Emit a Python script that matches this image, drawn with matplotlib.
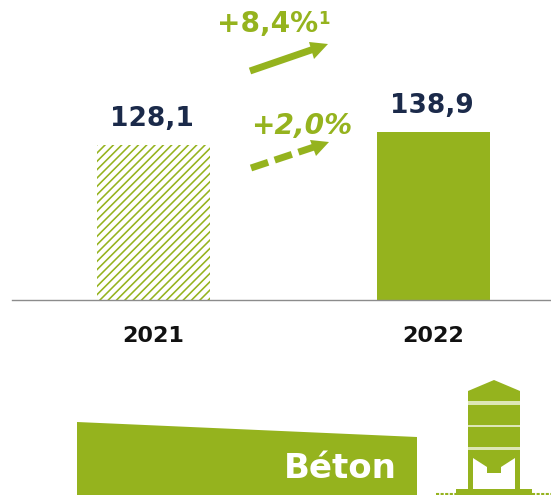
import matplotlib
matplotlib.use("Agg")
from matplotlib import pyplot as plt
from matplotlib.patches import Polygon, Rectangle

plt.rcParams['hatch.linewidth'] = 1.15

years = ["2021", "2022"]
values = [128.1, 138.9]
value_labels = ["128,1", "138,9"]
green = "#95b31e"
pale = "#dde6b6"
navy = "#1b2a4a"

fig = plt.figure(figsize=(5.51, 4.95), dpi=100)

# overlay in pixel coordinates for the arrows and the banner
over = fig.add_axes([0, 0, 1, 1])
over.set_xlim(0, 551)
over.set_ylim(495, 0)
over.axis("off")

# bars
ax = fig.add_axes([12 / 551, (495 - 300) / 495, (551 - 12) / 551, 300 / 495])
ax.patch.set_alpha(0)
ax.set_xlim(-0.504, 1.421)
ax.set_ylim(0, 300 / 1.21)
ax.bar(0, values[0], width=0.404, facecolor="white", edgecolor=green, hatch="////", linewidth=0)
ax.bar(1, values[1], width=0.404, color=green)
for i in range(2):
    ax.text(i - 0.005, values[i] + 11, value_labels[i], ha="center", va="bottom", color=navy,
            fontsize=19, fontweight="bold")
ax.set_xticks([0, 1])
ax.set_xticklabels(years, fontsize=16, fontweight="bold", color="#111111")
ax.tick_params(axis="x", length=0, pad=19)
ax.set_yticks([])
for s in ["top", "left", "right"]:
    ax.spines[s].set_visible(False)
ax.spines["bottom"].set_color("#8c8c8c")
ax.spines["bottom"].set_linewidth(1)

# growth labels
over.text(217, 24, "+8,4%", color=green, fontsize=20.2, fontweight="bold", va="center", ha="left")
over.text(318, 19, "1", color=green, fontsize=12, fontweight="bold", va="center", ha="left")
over.text(251, 126, "+2,0%", color=green, fontsize=20.2, fontweight="bold", style="italic",
          va="center", ha="left")

# solid arrow
over.plot([250, 314], [71, 49], color=green, lw=5, solid_capstyle="butt")
over.add_patch(Polygon([[328, 44], [309, 42], [314, 59]], closed=True, color=green, lw=0))

# dashed arrow
over.plot([251, 314], [168, 147], color=green, lw=5, dashes=(2.6, 1.0), dash_capstyle="butt")
over.add_patch(Polygon([[329, 142], [310, 140], [316, 156]], closed=True, color=green, lw=0))

# banner
over.add_patch(Polygon([[77, 422], [417, 437], [417, 495], [77, 495]], closed=True, color=green, lw=0))
over.text(397, 468, "Béton", color="white", fontsize=24.5, fontweight="bold", ha="right", va="center")

# silo icon
over.add_patch(Rectangle((468, 400), 52, 52, color=pale, lw=0))
over.add_patch(Polygon([[468, 391], [494, 380], [520, 391], [520, 401], [468, 401]], closed=True, color=green, lw=0))
over.add_patch(Rectangle((468, 405), 52, 20, color=green, lw=0))
over.add_patch(Rectangle((468, 427), 52, 20, color=green, lw=0))
over.add_patch(Polygon([[468, 450], [520, 450], [520, 490], [515, 490], [515, 458], [501, 467], [501, 473],
                        [487, 473], [487, 467], [473, 458], [473, 490], [468, 490]],
                       closed=True, color=green, lw=0))
over.add_patch(Rectangle((456, 489), 76, 6, color=green, lw=0))
over.plot([436, 456], [494, 494], color=green, lw=1.5, dashes=(1.5, 0.7))
over.plot([532, 551], [494, 494], color=green, lw=1.5, dashes=(1.5, 0.7))

fig.savefig("out.png", dpi=100)
